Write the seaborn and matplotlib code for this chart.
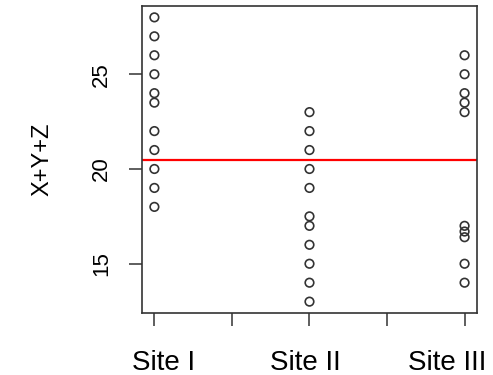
import numpy as np
import pandas as pd
import matplotlib
matplotlib.use('Agg')
import matplotlib.pyplot as plt
import matplotlib.transforms as mtransforms
import seaborn as sns

# 数据 / data
site_names = ['Site I', 'Site II', 'Site III']
site_i = [28, 27, 26, 25, 24, 23.5, 22, 21, 20, 19, 18]
site_ii = [23, 22, 21, 20, 19, 17.5, 17, 16, 15, 14, 13]
site_iii = [26, 25, 24, 23.5, 23, 17, 16.7, 16.4, 15, 14]
ref_line = 20.5
y_ticks = [15, 20, 25]

sns.set_theme(style='white')
plt.rcParams['font.family'] = ['Liberation Sans', 'DejaVu Sans']
plt.rcParams['text.color'] = 'black'
plt.rcParams['axes.labelcolor'] = 'black'
plt.rcParams['xtick.color'] = 'black'
plt.rcParams['ytick.color'] = 'black'

df = pd.DataFrame({
    'site': [1] * len(site_i) + [2] * len(site_ii) + [3] * len(site_iii),
    'value': site_i + site_ii + site_iii,
})

fig = plt.figure(figsize=(4.93, 3.75), dpi=100)
ax = fig.add_axes([0.288, 0.1653, 0.6795, 0.8187])

sns.scatterplot(data=df, x='site', y='value', ax=ax, s=38,
                facecolor='none', edgecolor='#333333', linewidth=1.2,
                legend=False)
ax.axhline(ref_line, color='red', linewidth=1.6)

# R 风格坐标范围
ax.set_xlim(0.92, 3.08)
ax.set_ylim(12.4, 28.6)
ax.set_xticks([1, 1.5, 2, 2.5, 3])
ax.set_xticklabels([site_names[0], '', site_names[1], '', site_names[2]], fontsize=20)
ax.set_yticks(y_ticks)
ax.set_yticklabels([str(t) for t in y_ticks], fontsize=16, rotation=90, va='center')
ax.tick_params(axis='both', direction='out', length=9.5, width=1.1, color='#333333',
               labelcolor='black', left=True, bottom=True)
ax.tick_params(axis='x', pad=17)
ax.tick_params(axis='y', pad=12)
ax.set_xlabel('')
ax.set_ylabel('X+Y+Z', fontsize=17, labelpad=27, color='black')

# 标签水平偏移（参考图中标签不完全居中）
shifts = [0.095, 0, -0.04, 0, -0.175]
for lab, dx in zip(ax.get_xticklabels(), shifts):
    lab.set_transform(lab.get_transform() + mtransforms.ScaledTranslation(dx, 0, fig.dpi_scale_trans))

for sp in ax.spines.values():
    sp.set_visible(True)
    sp.set_color('#333333')
    sp.set_linewidth(1.2)

fig.savefig('out.png', dpi=100)
plt.close()
